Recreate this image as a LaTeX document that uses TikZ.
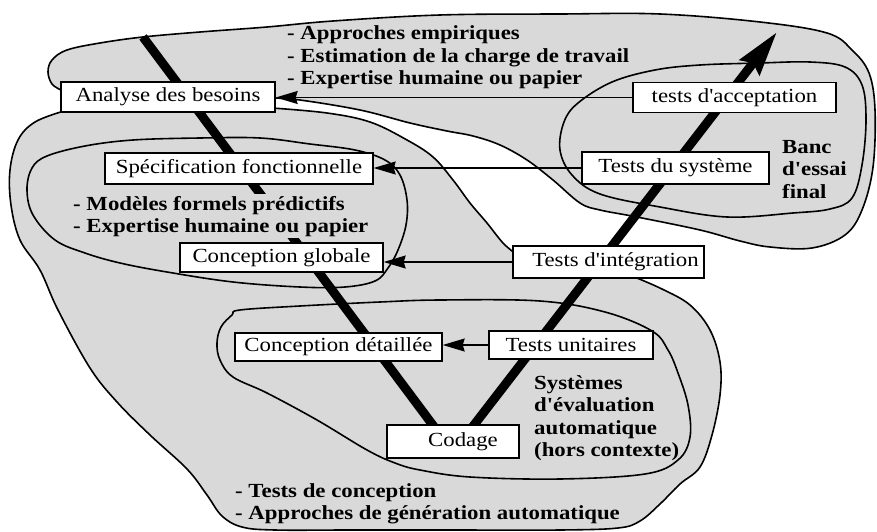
\documentclass[tikz,border=0pt]{standalone}
\usepackage{fontspec}
\newfontfamily\vf{Liberation Serif}[FakeStretch=1.14]
\usetikzlibrary{arrows.meta}
\definecolor{blobgray}{gray}{0.85}
\begin{document}
\begin{tikzpicture}[x=1pt,y=-1pt,
  blob/.style={fill=blobgray, draw=black, line width=1.6pt, line join=round},
  vleg/.style={line width=9pt, black},
  box/.style={draw=black, line width=1.4pt, fill=white, inner sep=0pt, font=\vf\fontsize{20}{22}\selectfont},
  thinarr/.style={line width=1.3pt, -{Stealth[length=22pt,width=13pt,inset=2pt]}},
  btext/.style={anchor=base west, inner sep=0pt, font=\vf\bfseries\fontsize{20}{22}\selectfont},
  otext/.style={btext, fill=blobgray, text height=16pt, text depth=6pt},
]
\useasboundingbox (0,0) rectangle (877,532);
\fill[white] (0,0) rectangle (877,532);

% top blob (empirical approaches)
\path[blob] plot[smooth, tension=0.6] coordinates {(61,90) (52,84) (48,72) (52,60) (67,50) (100,43) (143,37) (200,32) (267,27) (333,21) (440,15) (560,14) (660,14) (760,22) (827,33) (852,50) (869,73) (875,110) (873,167) (862,210) (845,235) (812,248) (770,247) (740,241) (700,230) (637,217) (600,210) (580,203) (553,180) (527,160) (500,145) (473,136) (447,131) (410,123) (360,110) (300,100) (272,98)} -- cycle;

% lower blob (design tests)
\path[blob] plot[smooth, tension=0.6] coordinates {(64,111) (35,122) (18,140) (10,170) (11,205) (20,240) (40,270) (58,310) (90,368) (117,402) (150,435) (187,469) (207,495) (222,516) (242,527) (275,530) (350,530) (450,530) (560,530) (618,528) (640,521) (660,504) (680,484) (700,467) (712,435) (720,395) (720,362) (710,330) (690,305) (662,289) (632,276)} -- plot[smooth, tension=0.6] coordinates {(516,254) (503,243) (487,223) (470,203) (453,180) (433,157) (407,140) (370,122) (327,113) (272,108)} -- cycle;

% final test bench blob
\path[blob] plot[smooth cycle, tension=0.6] coordinates {(578,103) (612,82) (655,70) (700,65) (760,63) (810,62) (845,67) (862,85) (866,120) (862,165) (852,198) (830,209) (793,213) (727,217) (660,207) (600,194) (572,175) (560,150) (564,122)};

% predictive formal models blob
\path[blob] plot[smooth cycle, tension=0.6] coordinates {(133,140) (200,138) (260,138) (310,144) (355,150) (385,160) (400,175) (407,200) (406,225) (398,250) (388,268) (375,281) (345,287) (300,287) (233,282) (167,272) (120,263) (85,253) (55,240) (33,215) (27,190) (32,168) (47,156) (85,146)};

% automatic evaluation blob
\path[blob] plot[smooth cycle, tension=0.6] coordinates {(240,310) (300,306) (380,302) (440,300) (540,301) (605,312) (652,331) (668,350) (678,373) (688,405) (690,437) (678,460) (645,474) (560,479) (470,477) (420,470) (395,463) (367,450) (317,420) (267,393) (233,377) (220,360) (217,343) (221,327) (232,315)};

% V legs
\coordinate (vtop) at (143,37);
\coordinate (vbl) at (441,436);
\coordinate (vbr) at (465.5,436);
\coordinate (vtip) at (777,32);
\draw[vleg] (vtop) -- (vbl);
\draw[vleg, -{Stealth[length=44pt,width=24pt,inset=5pt]}] (vbr) -- (vtip);

% boxes
\node[box, minimum width=214pt, minimum height=30pt] (analyse) at (168,97) {Analyse des besoins};
\node[box, minimum width=203pt, minimum height=30pt] (accept) at (734.5,97.5) {tests d'acceptation};
\node[box, minimum width=268pt, minimum height=31pt] (spec) at (239,168.5) {Spécification fonctionnelle};
\node[box, minimum width=187pt, minimum height=32pt] (systeme) at (675.5,168) {Tests du système};
\node[box, minimum width=203pt, minimum height=29pt] (globale) at (281.5,257.5) {Conception globale};
\node[box, minimum width=191pt, minimum height=32pt] (integ) at (608.5,262) {\hspace*{14pt}Tests d'intégration};
\node[box, minimum width=207pt, minimum height=28pt] (detail) at (338.5,347) {Conception détaillée};
\node[box, minimum width=164pt, minimum height=28pt] (unit) at (571,345) {Tests unitaires};
\node[box, minimum width=132pt, minimum height=33pt] (codage) at (453,441.5) {\hspace*{20pt}Codage};

% feedback arrows
\draw[thinarr] (accept.west) -- (accept.west -| analyse.east);
\draw[thinarr] (systeme.west) -- (systeme.west -| spec.east);
\draw[thinarr] (integ.west) -- (integ.west -| globale.east);
\draw[thinarr] (unit.west) -- (unit.west -| detail.east);

% texts
\node[btext] (e1) at (287,40) {- Approches empiriques};
\node[btext] (e2) at (287,62.5) {- Estimation de la charge de travail};
\node[btext] (e3) at (287,85) {- Expertise humaine ou papier};

\node[otext] (m1) at (73,210) {- Modèles formels prédictifs};
\node[otext] (m2) at (73,232) {- Expertise humaine ou papier};

\node[btext] (b1) at (782,153) {Banc};
\node[btext] (b2) at (782,175.5) {d'essai};
\node[btext] (b3) at (782,198) {final};

\node[btext] (s1) at (534,389) {Systèmes};
\node[btext] (s2) at (534,411.5) {d'évaluation};
\node[btext] (s3) at (534,434) {automatique};
\node[btext] (s4) at (534,456.5) {(hors contexte)};

\node[btext] (c1) at (235,497) {- Tests de conception};
\node[btext] (c2) at (235,519) {- Approches de génération automatique};
\end{tikzpicture}
\end{document}
